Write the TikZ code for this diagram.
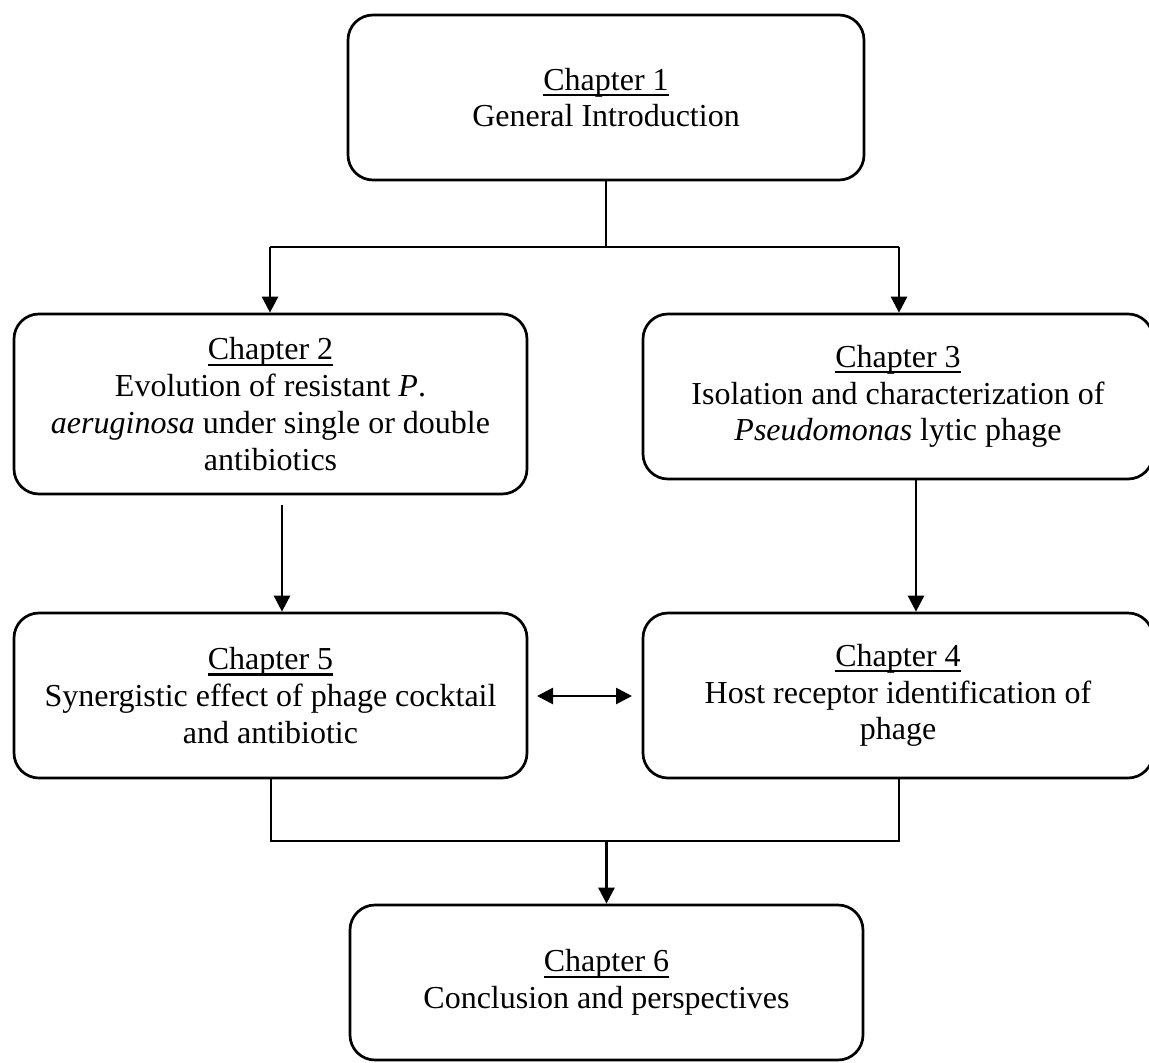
\documentclass[tikz,border=0pt]{standalone}
\usepackage{fontspec}
\setmainfont{Liberation Serif}
\usetikzlibrary{arrows.meta}
\newcommand\chapu[1]{\setbox0\hbox{#1}\rlap{\rule[-6pt]{\wd0}{2.2pt}}\box0}
\begin{document}
\begin{tikzpicture}[x=1pt,y=-1pt,
  chap/.style={draw, line width=2.7pt, rounded corners=25pt, align=center, inner sep=0pt,
    font=\fontsize{32}{36.8}\selectfont},
  conn/.style={line width=2.7pt},
  arr/.style={conn, -{Triangle[length=16pt,width=16pt]}},
  darr/.style={conn, {Triangle[length=16pt,width=16pt]}-{Triangle[length=16pt,width=16pt]}}]
\useasboundingbox (0,0) rectangle (1149,1063);
\fill[white] (0,0) rectangle (1149,1063);

\node[chap, minimum width=516pt, minimum height=165pt] (c1) at (606,97.5)
  {\chapu{Chapter 1}\\General Introduction};
\node[chap, minimum width=513pt, minimum height=180pt] (c2) at (270.5,404)
  {\chapu{Chapter 2}\\Evolution of resistant \textit{P}.\\\textit{aeruginosa} under single or double\\antibiotics};
\node[chap, minimum width=510pt, minimum height=165pt] (c3) at (898,396.5)
  {\chapu{Chapter 3}\\Isolation and characterization of\\\textit{Pseudomonas} lytic phage};
\node[chap, minimum width=513pt, minimum height=165pt] (c5) at (270.5,695.5)
  {\chapu{Chapter 5}\\Synergistic effect of phage cocktail\\and antibiotic};
\node[chap, minimum width=510pt, minimum height=165pt] (c4) at (898,695.5)
  {\chapu{Chapter 4}\\Host receptor identification of\\phage};
\node[chap, minimum width=513pt, minimum height=155pt] (c6) at (606.5,982.5)
  {\chapu{Chapter 6}\\Conclusion and perspectives};

\coordinate (top) at (606,247);
\coordinate (tl) at (270,247);
\coordinate (tr) at (899,247);
\draw[conn] (c1.south) -- (top);
\draw[conn] (tl) -- (tr);
\draw[arr] (tl) -- (tl |- c2.north);
\draw[arr] (tr) -- (tr |- c3.north);

\coordinate (a25) at (282,505);
\draw[arr] (a25) -- (a25 |- c5.north);
\coordinate (a34) at (916,479);
\draw[arr] (a34 |- c3.south) -- (a34 |- c4.north);

\coordinate (dl) at (537,696);
\coordinate (dr) at (632,696);
\draw[darr] (dl) -- (dr);

\coordinate (bl) at (271,841);
\coordinate (br) at (899,841);
\coordinate (bm) at (606.5,841);
\draw[conn] (bl |- c5.south) -- (bl) -- (br) -- (br |- c4.south);
\draw[arr] (bm) -- (c6.north);
\end{tikzpicture}
\end{document}
